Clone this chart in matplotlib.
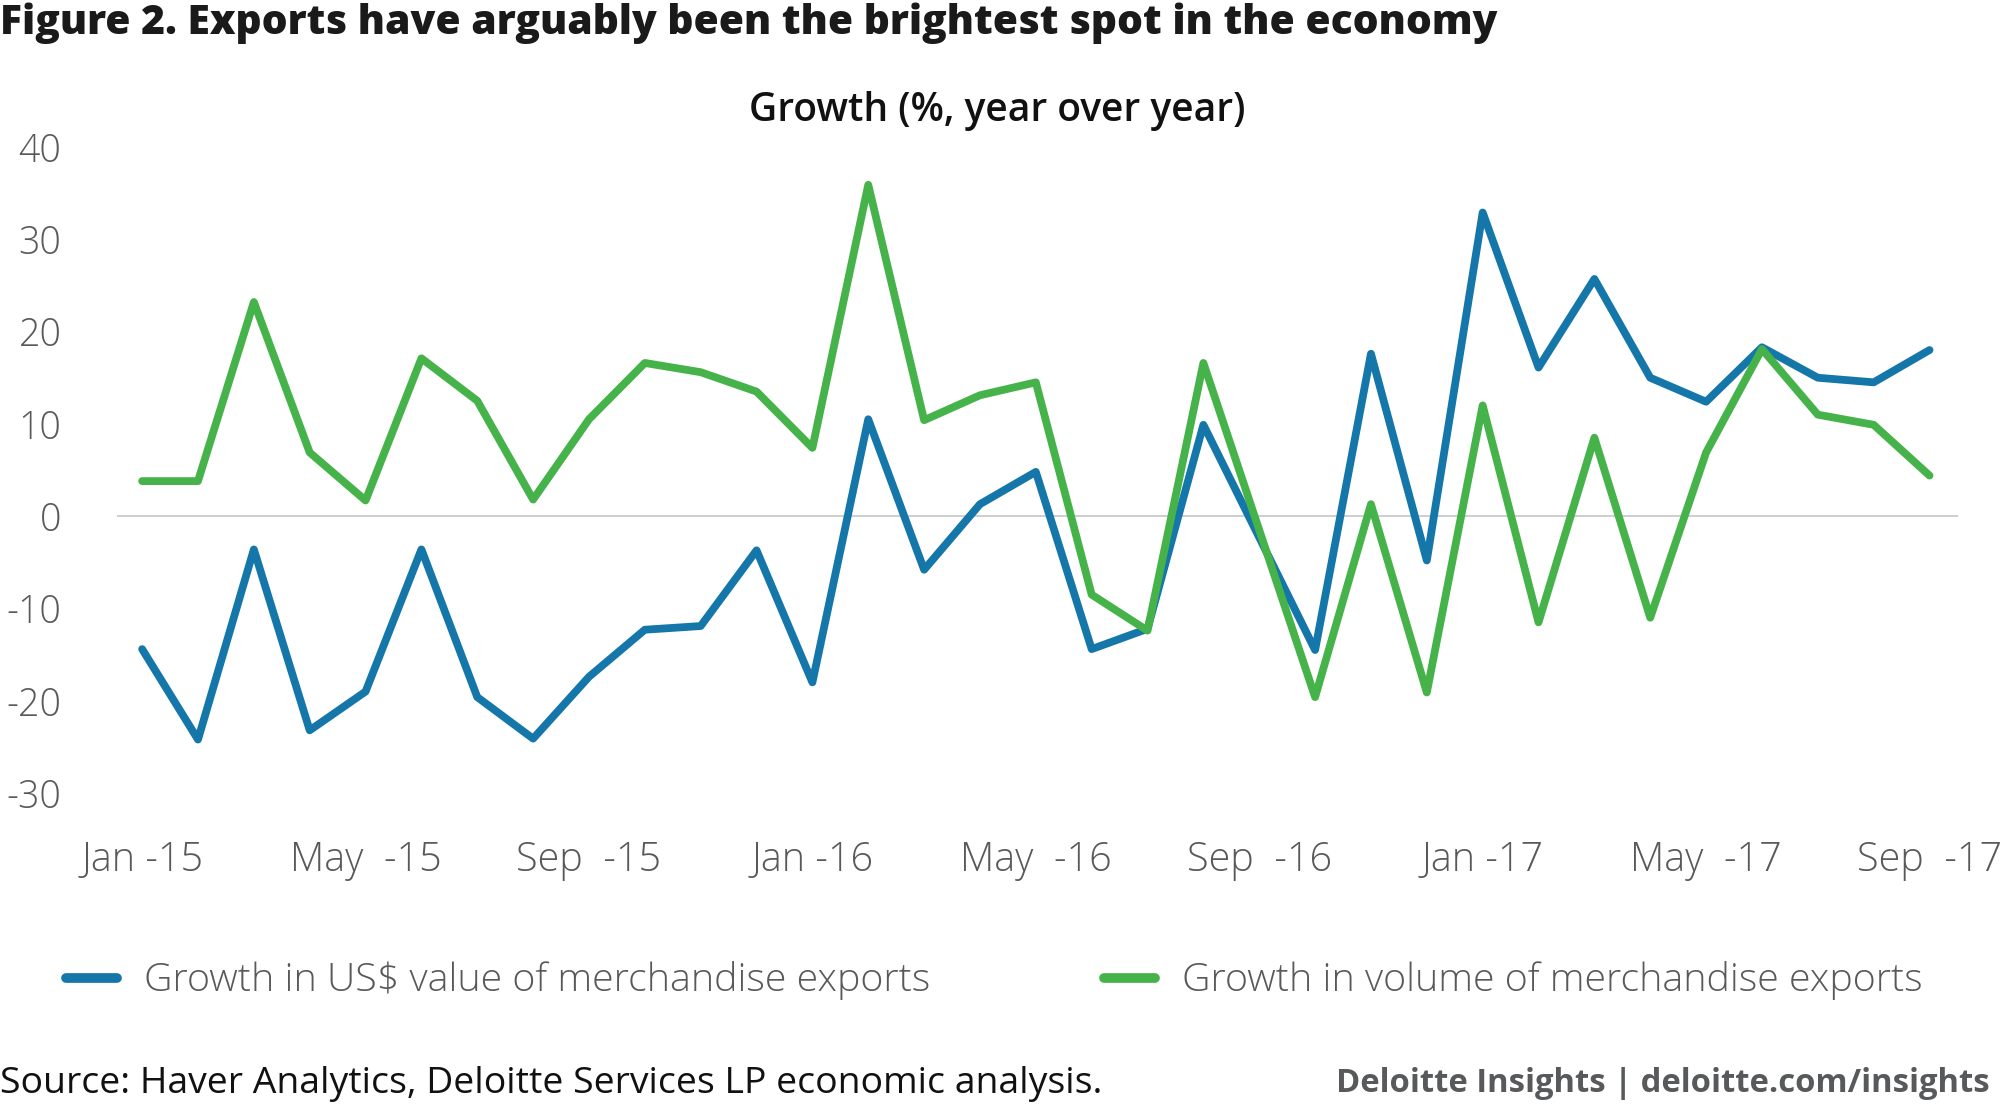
#!/usr/bin/env python3
"""Figure 2: growth in US$ value vs volume of merchandise exports, Jan-15 to Sep-17."""

import matplotlib

matplotlib.use("Agg")
import matplotlib.pyplot as plt
from matplotlib.lines import Line2D

matplotlib.rcParams.update({
    "font.family": ["Open Sans", "DejaVu Sans"],
    "axes.unicode_minus": False,
})

# Monthly observations, Jan 2015 .. Sep 2017 (33 months).
MONTHS = list(range(33))
VALUE_GROWTH = [
    -14.4, -24.2, -3.6, -23.2, -19.0, -3.6, -19.6, -24.1, -17.4, -12.3, -11.9, -3.7,
    -18.0, 10.5, -5.8, 1.3, 4.8, -14.4, -12.2, 9.9, -2.3, -14.5, 17.6, -4.8,
    32.9, 16.1, 25.7, 15.0, 12.4, 18.3, 15.0, 14.5, 18.0,
]
VOLUME_GROWTH = [
    3.8, 3.8, 23.2, 6.9, 1.7, 17.1, 12.5, 1.8, 10.5, 16.6, 15.6, 13.5,
    7.4, 35.9, 10.4, 13.1, 14.5, -8.5, -12.4, 16.6, -1.5, -19.6, 1.3, -19.1,
    12.0, -11.5, 8.5, -11.0, 6.9, 18.1, 11.0, 9.9, 4.4,
]
TICK_MONTHS = [0, 4, 8, 12, 16, 20, 24, 28, 32]
TICK_LABELS = ["Jan -15", "May  -15", "Sep  -15", "Jan -16", "May  -16",
               "Sep  -16", "Jan -17", "May  -17", "Sep  -17"]
Y_TICKS = [-30, -20, -10, 0, 10, 20, 30, 40]
SERIES_NAMES = ["Growth in US$ value of merchandise exports",
                "Growth in volume of merchandise exports"]

BLUE = "#1577a9"
GREEN = "#46b24a"
GREY_TEXT = "#58595b"
W, H = 2000, 1104


def main() -> int:
    fig = plt.figure(figsize=(W / 100, H / 100), dpi=100)
    # axes box in pixel terms: x 117..1958, y 128.5..820.8 (from top)
    ax = fig.add_axes([117 / W, 1 - 820.8 / H, 1841 / W, (820.8 - 128.5) / H])

    ax.axhline(0, color="#c6c6c6", linewidth=1.2, zorder=1)
    line_kw = dict(linewidth=5.6, solid_capstyle="round", solid_joinstyle="round", zorder=3)
    ax.plot(MONTHS, VALUE_GROWTH, color=BLUE, **line_kw)
    ax.plot(MONTHS, VOLUME_GROWTH, color=GREEN, **line_kw)

    ax.set_xlim(-0.45, 32.51)
    ax.set_ylim(-33, 42)
    ax.set_yticks(Y_TICKS)
    ax.set_yticklabels([str(v) for v in Y_TICKS])
    ax.set_xticks(TICK_MONTHS)
    ax.set_xticklabels(TICK_LABELS)
    ax.tick_params(axis="y", length=0, pad=40, labelsize=27, labelcolor=GREY_TEXT)
    ax.tick_params(axis="x", length=0, pad=14, labelsize=28.5, labelcolor=GREY_TEXT)
    for lab in ax.get_yticklabels() + ax.get_xticklabels():
        lab.set_fontweight("light")
    for spine in ax.spines.values():
        spine.set_visible(False)

    fig.text(0, 1 - 23 / H, "Figure 2. Exports have arguably been the brightest spot in the economy",
             ha="left", va="center", fontsize=29.3, fontweight="heavy", color="#1a1a1a")
    fig.text(997 / W, 1 - 111 / H, "Growth (%, year over year)", ha="center", va="center",
             fontsize=28, fontweight="semibold", color="#111111")

    handles = [Line2D([], [], color=BLUE, linewidth=7, solid_capstyle="round"),
               Line2D([], [], color=GREEN, linewidth=7, solid_capstyle="round")]
    leg = fig.legend(handles, SERIES_NAMES, loc="center left", bbox_to_anchor=(66 / W, 1 - 981 / H),
                     ncol=2, frameon=False, fontsize=28.4, handlelength=1.3, handletextpad=0.68,
                     columnspacing=4.4, borderpad=0, borderaxespad=0)
    for t in leg.get_texts():
        t.set_color(GREY_TEXT)
        t.set_fontweight("light")

    fig.text(0, 1 - 1084 / H, "Source: Haver Analytics, Deloitte Services LP economic analysis.",
             ha="left", va="center", fontsize=26.9, color="#111111")
    fig.text(1990 / W, 1 - 1084 / H, "Deloitte Insights | deloitte.com/insights",
             ha="right", va="center", fontsize=23.6, fontweight="bold", color=GREY_TEXT)

    fig.savefig("out.png", dpi=100)
    plt.close(fig)
    return 0


if __name__ == "__main__":
    raise SystemExit(main())
